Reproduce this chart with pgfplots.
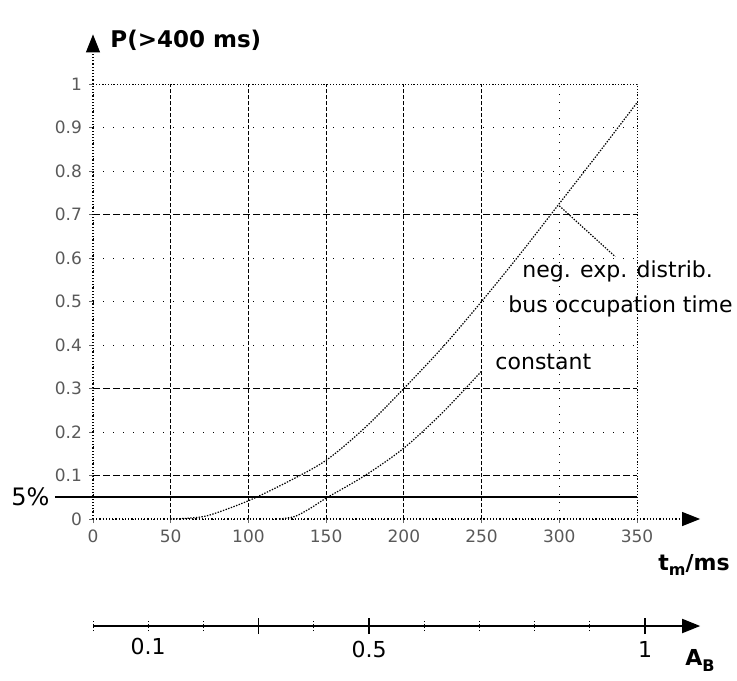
\documentclass[border=0pt]{standalone}
\usepackage{pgfplots}
\pgfplotsset{compat=1.18}
\usepackage{fontspec}
\setmainfont{DejaVu Sans}
\usetikzlibrary{arrows.meta}

\tikzset{
  loosedot/.style={dash pattern=on 0.7pt off 4.3pt},
  curvedot/.style={dash pattern=on 0.7pt off 0.7pt},
  bigtip/.style={-{Triangle[length=9pt,width=7pt]}},
}

\begin{document}
\begin{tikzpicture}
\path[use as bounding box] (0,0) rectangle (368.5pt,-340pt);

% main chart: P(>400 ms) vs t_m
\begin{axis}[
  at={(46.5pt,-259.5pt)}, anchor=south west,
  scale only axis, width=272pt, height=217.5pt,
  xmin=0, xmax=350, ymin=0, ymax=1,
  clip=false, axis line style={draw=none},
  tick pos=left, tick align=outside, major tick length=2pt,
  tick style={black!60, line width=0.4pt},
  tick label style={font=\fontsize{8.5}{10}\selectfont, text=black!65},
  /pgf/number format/assume math mode=true,
  xtick={50,100,150,200,250},
  extra x ticks={0,300,350},
  ytick={0.1,0.3,0.7},
  extra y ticks={0,0.2,0.4,0.5,0.6,0.8,0.9,1},
  grid=major,
  major x grid style={black, line width=0.55pt, dash pattern=on 2pt off 1pt},
  major y grid style={black, line width=0.55pt, dash pattern=on 3.5pt off 1.5pt},
  extra x tick style={major x grid style={black, line width=0.5pt, dash pattern=on 0.7pt off 3.3pt}},
  extra y tick style={major y grid style={black, line width=0.5pt, loosedot}},
]
% neg. exp. distributed bus occupation time
\addplot[black, line width=0.6pt, curvedot, smooth] coordinates {
(50,0) (62,0.002) (75,0.009) (100,0.042) (125,0.085) (150,0.135)
(175,0.21) (200,0.30) (225,0.395) (250,0.50) (275,0.61) (300,0.725)
(325,0.84) (350,0.957)
};
% constant bus occupation time
\addplot[black, line width=0.6pt, curvedot, smooth] coordinates {
(120,0) (130,0.006) (140,0.025) (150,0.048) (175,0.10) (200,0.163)
(225,0.245) (250,0.34)
};

% borders and axes
\draw[black, line width=0.5pt, densely dotted] (axis cs:0,1) -- (axis cs:350,1) -- (axis cs:350,0);
\draw[black, line width=0.6pt, densely dotted, bigtip] (axis cs:0,0) -- (axis cs:0,1.114);
\draw[black, line width=0.6pt, densely dotted, bigtip] (axis cs:0,0) -- (axis cs:390.6,0);

% 5% level
\draw[black, line width=1pt] (axis cs:-24.5,0.05) -- (axis cs:350,0.05);
\node[anchor=east, inner sep=0, font=\fontsize{12}{14}\selectfont] at (axis cs:-27.7,0.05) {5\%};

% annotations
\draw[black, line width=0.6pt, curvedot] (axis cs:300,0.72) -- (axis cs:336,0.603);
\node[anchor=west, inner sep=0, font=\fontsize{11}{13}\selectfont] at (axis cs:276,0.568) {neg. exp. distrib.};
\node[anchor=west, inner sep=0, font=\fontsize{11}{13}\selectfont] at (axis cs:267,0.488) {bus occupation time};
\node[anchor=west, inner sep=0, font=\fontsize{11}{13}\selectfont] at (axis cs:258.7,0.361) {constant};
\end{axis}

% A_B scale
\begin{axis}[
  at={(46.5pt,-313pt)}, anchor=south west,
  scale only axis, width=303.6pt, height=10pt,
  xmin=0, xmax=1.1, ymin=0, ymax=1,
  axis x line=bottom, axis y line=none,
  x axis line style={black, line width=0.9pt, bigtip},
  tick align=center, major tick length=8pt,
  tick style={black, line width=0.7pt},
  tick label style={font=\fontsize{11}{13}\selectfont},
  /pgf/number format/assume math mode=true,
  xtick={0.3,0.5,1}, xticklabels={,0.5,1},
  extra x ticks={0,0.1,0.2,0.4,0.6,0.7,0.8,0.9},
  extra x tick labels={,0.1,,,,,,},
  extra x tick style={major tick length=5pt, tick style={black, line width=0.5pt, densely dotted}},
]
\end{axis}

% axis titles
\node[anchor=west, inner sep=0, font=\bfseries\fontsize{11.5}{13}\selectfont] at (55pt,-20pt) {P(>400 ms)};
\node[anchor=west, inner sep=0, font=\bfseries\fontsize{11}{13}\selectfont] at (329pt,-282.5pt) {t\raisebox{-0.4ex}{\fontsize{8}{9}\selectfont m}/ms};
\node[anchor=west, inner sep=0, font=\bfseries\fontsize{11}{13}\selectfont] at (342.5pt,-330pt) {A\raisebox{-0.5ex}{\fontsize{8}{9}\selectfont B}};
\end{tikzpicture}
\end{document}
